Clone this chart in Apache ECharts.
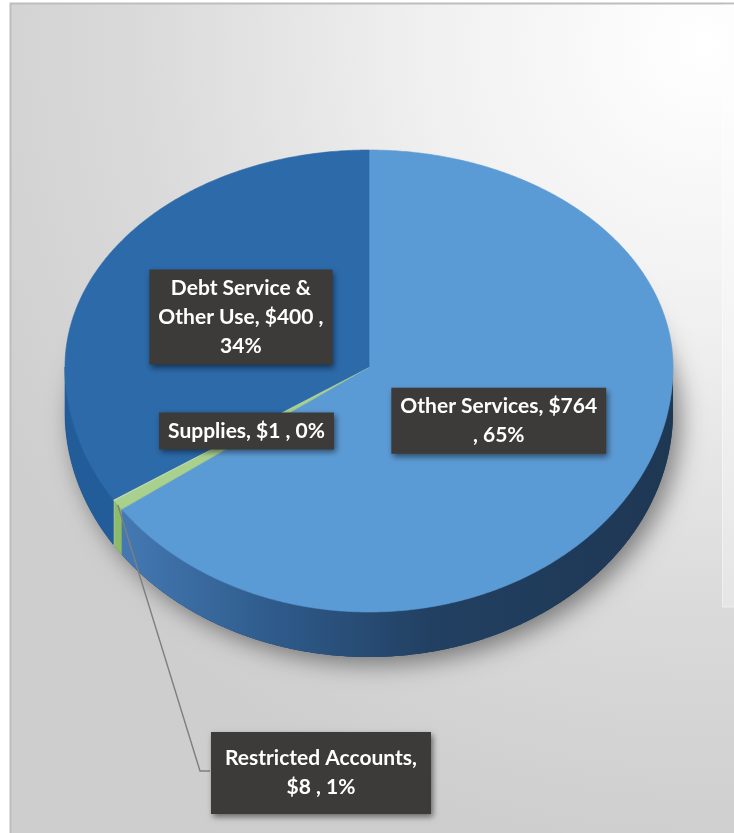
<!DOCTYPE html>
<html>
<head>
<meta charset="utf-8">
<script src="https://cdn.jsdelivr.net/npm/echarts@6/dist/echarts.min.js"></script>
<style>
  html, body { margin: 0; padding: 0; background: #ffffff; }
  #chart { width: 734px; height: 833px; }
</style>
</head>
<body>
<div id="chart"></div>
<script>
// Spending by category (in $)
const categories = ['Other Services', 'Restricted Accounts', 'Supplies', 'Debt Service & Other Use'];
const amounts = [764, 8, 1, 400];

// Slice colours: top face and side wall
const topColors = ['#5B9BD5', '#A9D18E', '#C9E2B8', '#2C6AAA'];

// Label layout: word index after which a line break goes, box padding, outside placement
const labelLayout = {
  'Other Services': { breaks: [3], padding: [4, 9] },
  'Restricted Accounts': { breaks: [2], padding: [12, 14], outside: true, at: [321, 773], elbow: [200, 771], end: [210, 771] },
  'Supplies': { breaks: [], padding: [4, 9] },
  'Debt Service & Other Use': { breaks: [3, 7], padding: [4, 9] }
};

// Tilted pie geometry
const CX = 369, CY = 367, RX = 304, RY_FAR = 217, RY_NEAR = 245, DEPTH = 45;
const LABEL_RADIUS = 0.48;

const total = amounts.reduce((s, v) => s + v, 0);
const startAngles = [];
{
  let acc = 0;
  amounts.forEach(v => { startAngles.push(acc / total * 360); acc += v; });
}

function pt(theta, r, dy) {
  const t = theta * Math.PI / 180;
  const u = Math.sin(t), v = -Math.cos(t);
  const ry = v < 0 ? RY_FAR : RY_NEAR;
  return [CX + RX * u * r, CY + ry * v * r + (dy || 0)];
}

function arc(a0, a1, dy) {
  const pts = [];
  const n = Math.max(2, Math.ceil((a1 - a0) / 0.5));
  for (let k = 0; k <= n; k++) pts.push(pt(a0 + (a1 - a0) * k / n, 1, dy));
  return pts;
}

const sideFills = [
  { type: 'linear', x: 65, y: 0, x2: 673, y2: 0, global: true,
    colorStops: [
      { offset: 0, color: '#4C84C2' },
      { offset: 0.35, color: '#2E5A8A' },
      { offset: 0.6, color: '#224062' },
      { offset: 1, color: '#1E3753' }
    ] },
  '#8DBB6C',
  '#B3D29C',
  '#235D99'
];

function labelText(i) {
  const pct = Math.round(amounts[i] / total * 100);
  const words = (categories[i] + ', $' + amounts[i] + ' , ' + pct + '%').split(' ');
  const brk = labelLayout[categories[i]].breaks;
  let out = '';
  words.forEach((w, k) => {
    if (k > 0) out += brk.indexOf(k) >= 0 ? '\n' : ' ';
    out += w;
  });
  return out;
}

function renderItem(params, api) {
  const i = params.dataIndex;
  const a0 = startAngles[i];
  const a1 = a0 + api.value(0) / total * 360;
  const children = [];

  if (i === 0) {
    // soft shadow under the whole pie
    children.push({
      type: 'polygon', z2: 0,
      shape: { points: arc(0, 360, DEPTH) },
      style: { fill: '#1E3753', shadowBlur: 24, shadowColor: 'rgba(0,0,0,0.45)', shadowOffsetX: 7, shadowOffsetY: 7 }
    });
  }

  // side wall (only the near half of the rim is visible)
  const s = Math.max(a0, 90), e = Math.min(a1, 270);
  if (e > s) {
    const top = arc(s, e, 0);
    const bottom = arc(s, e, DEPTH).reverse();
    children.push({
      type: 'polygon', z2: 1,
      shape: { points: top.concat(bottom) },
      style: { fill: sideFills[i], stroke: typeof sideFills[i] === 'string' ? sideFills[i] : null, lineWidth: 0.6 }
    });
  }

  // top face
  children.push({
    type: 'polygon', z2: 2,
    shape: { points: [[CX, CY]].concat(arc(a0, a1, 0)) },
    style: { fill: topColors[i], stroke: topColors[i], lineWidth: 0.6 }
  });

  // data label
  const lay = labelLayout[categories[i]];
  const mid = (a0 + a1) / 2;
  let lx, ly;
  if (lay.outside) {
    const edge = pt(mid, 1, 0);
    children.push({
      type: 'polyline', z2: 9,
      shape: { points: [edge, lay.elbow, lay.end] },
      style: { stroke: '#7F7F7F', lineWidth: 1.4, fill: null }
    });
    lx = lay.at[0]; ly = lay.at[1];
  } else {
    const p = pt(mid, LABEL_RADIUS, 0);
    lx = p[0]; ly = p[1];
  }
  children.push({
    type: 'text', z2: 10,
    style: {
      text: labelText(i),
      x: lx, y: ly,
      align: 'center', verticalAlign: 'middle',
      fill: '#FFFFFF',
      fontFamily: 'Lato', fontWeight: 'bold', fontSize: 21,
      lineHeight: 29,
      backgroundColor: '#3D3B3A',
      padding: lay.padding,
      shadowBlur: 6, shadowColor: 'rgba(0,0,0,0.5)', shadowOffsetX: 2, shadowOffsetY: 3
    }
  });

  return { type: 'group', children: children };
}

const chart = echarts.init(document.getElementById('chart'), null, { renderer: 'canvas' });
chart.setOption({
  animation: false,
  backgroundColor: '#ffffff',
  graphic: [
    {
      type: 'rect', z: -10, silent: true,
      shape: { x: 10.5, y: 3.5, width: 730, height: 840 },
      style: {
        fill: new echarts.graphic.RadialGradient(0.95, 0.05, 1.1, [
          { offset: 0, color: '#FFFFFF' },
          { offset: 0.35, color: '#F0F0F0' },
          { offset: 0.7, color: '#DADADA' },
          { offset: 1, color: '#CECECE' }
        ]),
        stroke: '#BDBDBD', lineWidth: 2
      }
    },
    {
      type: 'rect', z: -9, silent: true,
      shape: { x: 722.5, y: 5, width: 20, height: 602 },
      style: { fill: 'rgba(255,255,255,0.3)', stroke: 'rgba(255,255,255,0.5)', lineWidth: 1 }
    }
  ],
  series: [{
    type: 'custom',
    coordinateSystem: 'none',
    silent: true,
    renderItem: renderItem,
    data: amounts.map((v, i) => ({ name: categories[i], value: [v] }))
  }]
});
</script>
</body>
</html>
